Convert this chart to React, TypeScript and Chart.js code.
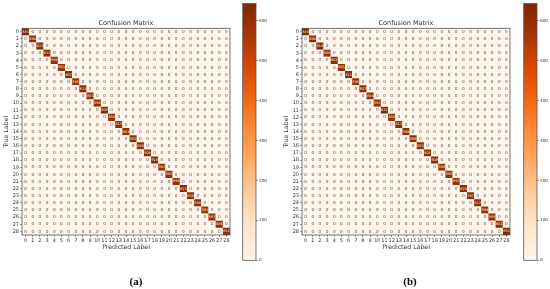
import React, { useEffect, useRef } from "react";
import { Chart, registerables } from "chart.js";

Chart.register(...registerables);

const categories = Array.from({ length: 29 }, (_, i) => String(i));
const diagonalA = [643, 604, 622, 612, 598, 590, 607, 585, 611, 602, 596, 609, 588, 615, 601, 593, 606, 599, 610, 587, 603, 594, 613, 600, 608, 591, 597, 605, 618];
const diagonalB = [640, 608, 618, 606, 602, 588, 611, 590, 607, 604, 592, 612, 586, 613, 598, 596, 603, 601, 609, 589, 605, 592, 610, 597, 612, 594, 595, 601, 630];
const colorbarTicks = [0, 100, 200, 300, 400, 500, 600];
const colorMax = 643;
const orangesStops = ["#fff5eb", "#fee6ce", "#fdd0a2", "#fdae6b", "#fd8d3c", "#f16913", "#d94801", "#a63603", "#7f2704"];

const FONT = "'DejaVu Sans', sans-serif";
const TEXT = "#333333";
const FRAME = "#555555";

function hexToRgb(h: string) {
  return [1, 3, 5].map((i) => parseInt(h.slice(i, i + 2), 16));
}
function cmap(v: number) {
  const t = Math.max(0, Math.min(1, v / colorMax)) * (orangesStops.length - 1);
  const i = Math.min(Math.floor(t), orangesStops.length - 2);
  const a = hexToRgb(orangesStops[i]);
  const b = hexToRgb(orangesStops[i + 1]);
  const f = t - i;
  const c = a.map((x, k) => Math.round(x + (b[k] - x) * f));
  return `rgb(${c[0]},${c[1]},${c[2]})`;
}

function buildCells(diag: number[]) {
  const cells: { x: string; y: string; v: number }[] = [];
  categories.forEach((row, r) =>
    categories.forEach((col, c) => cells.push({ x: col, y: row, v: r === c ? diag[r] : 0 }))
  );
  return cells;
}

const heatPlugin = {
  id: "heatPlugin",
  beforeDatasetsDraw(chart: any) {
    const { ctx, chartArea: a } = chart;
    ctx.save();
    ctx.fillStyle = orangesStops[0];
    ctx.fillRect(a.left, a.top, a.right - a.left, a.bottom - a.top);
    ctx.restore();
  },
  afterDatasetsDraw(chart: any) {
    const { ctx, chartArea: a, scales } = chart;
    ctx.save();
    ctx.textAlign = "center";
    ctx.textBaseline = "middle";
    chart.data.datasets[0].data.forEach((d: any) => {
      const x = scales.x.getPixelForValue(d.x);
      const y = scales.y.getPixelForValue(d.y);
      ctx.font = `${d.v > 0 ? 3.4 : 4.2}px ${FONT}`;
      ctx.fillStyle = d.v > colorMax / 2 ? "#fff0e0" : "#5a4a44";
      ctx.fillText(String(d.v), x, y);
    });
    ctx.strokeStyle = FRAME;
    ctx.lineWidth = 0.8;
    ctx.strokeRect(a.left, a.top, a.right - a.left, a.bottom - a.top);
    ctx.restore();
  },
};

const framePlugin = {
  id: "framePlugin",
  afterDatasetsDraw(chart: any) {
    const { ctx, chartArea: a } = chart;
    ctx.save();
    ctx.strokeStyle = FRAME;
    ctx.lineWidth = 0.8;
    ctx.strokeRect(a.left, a.top, a.right - a.left, a.bottom - a.top);
    ctx.restore();
  },
};

function Heatmap({ diag, left }: { diag: number[]; left: number }) {
  const ref = useRef<HTMLCanvasElement>(null);
  useEffect(() => {
    const chart = new Chart(ref.current!, {
      type: "scatter",
      data: {
        datasets: [
          {
            data: buildCells(diag),
            pointStyle: "rect",
            pointRadius: (ctx: any) => {
              const s = ctx.chart.scales.x;
              return s ? ((s.width / categories.length) * Math.SQRT1_2) : 5;
            },
            pointBorderWidth: 0,
            pointBackgroundColor: (ctx: any) => cmap(ctx.raw ? ctx.raw.v : 0),
          } as any,
        ],
      },
      options: {
        responsive: false,
        animation: false,
        layout: { padding: { top: 19.5, right: 10, bottom: 38, left: 0 } },
        plugins: {
          legend: { display: false },
          tooltip: { enabled: false },
          title: {
            display: true,
            fullSize: false,
            text: "Confusion Matrix",
            color: TEXT,
            font: { family: FONT, size: 6.5, weight: "normal", lineHeight: 1.2 },
            padding: { top: 0, bottom: 1 },
          },
        },
        scales: {
          x: {
            type: "category",
            labels: categories,
            offset: true,
            afterFit: (s: any) => { s.height = 16; },
            grid: { drawOnChartArea: false, drawTicks: true, tickLength: 2, offset: false, color: FRAME, lineWidth: 0.6 },
            border: { display: false },
            ticks: { color: TEXT, font: { family: FONT, size: 5 }, padding: 1, maxRotation: 0, autoSkip: false },
            title: { display: true, text: "Predicted Label", color: TEXT, font: { family: FONT, size: 6.2, lineHeight: 1.2 }, padding: { top: 0, bottom: 0 } },
          },
          y: {
            type: "category",
            labels: categories,
            offset: true,
            afterFit: (s: any) => { s.width = 22; },
            grid: { drawOnChartArea: false, drawTicks: true, tickLength: 2, offset: false, color: FRAME, lineWidth: 0.6 },
            border: { display: false },
            ticks: { color: TEXT, font: { family: FONT, size: 5 }, padding: 1, autoSkip: false },
            title: { display: true, text: "True Label", color: TEXT, font: { family: FONT, size: 6.2, lineHeight: 1.2 }, padding: { top: 3, bottom: 0 } },
          },
        },
      },
      plugins: [heatPlugin],
    } as any);
    return () => chart.destroy();
  }, [diag]);
  return <canvas ref={ref} width={240} height={289} style={{ position: "absolute", left, top: 0, filter: "blur(0.3px)" }} />;
}

function Colorbar({ left }: { left: number }) {
  const ref = useRef<HTMLCanvasElement>(null);
  useEffect(() => {
    const chart = new Chart(ref.current!, {
      type: "bar",
      data: {
        labels: ["scale"],
        datasets: [
          {
            data: [[0, colorMax]],
            barPercentage: 1,
            categoryPercentage: 1,
            backgroundColor: (ctx: any) => {
              const { chart: c } = ctx;
              const a = c.chartArea;
              if (!a) return orangesStops[4];
              const g = c.ctx.createLinearGradient(0, a.bottom, 0, a.top);
              orangesStops.forEach((col, i) => g.addColorStop(i / (orangesStops.length - 1), col));
              return g;
            },
          },
        ],
      },
      options: {
        responsive: false,
        animation: false,
        layout: { padding: { top: 3, right: 0, bottom: 28.7, left: 7.7 } },
        plugins: { legend: { display: false }, tooltip: { enabled: false }, title: { display: false } },
        scales: {
          x: { display: false },
          y: {
            position: "right",
            min: 0,
            max: colorMax,
            afterFit: (s: any) => { s.width = 19; },
            afterBuildTicks: (s: any) => { s.ticks = colorbarTicks.map((value) => ({ value })); },
            grid: { drawOnChartArea: false, drawTicks: true, tickLength: 2, color: FRAME, lineWidth: 0.6 },
            border: { display: false },
            ticks: { color: TEXT, font: { family: FONT, size: 4.2 }, padding: 1 },
          },
        },
      },
      plugins: [framePlugin],
    } as any);
    return () => chart.destroy();
  }, []);
  return <canvas ref={ref} width={40} height={289} style={{ position: "absolute", left, top: 0, filter: "blur(0.3px)" }} />;
}

const captionStyle = (left: number): React.CSSProperties => ({
  position: "absolute",
  left,
  top: 275,
  width: 30,
  textAlign: "center",
  font: "bold 11px 'Liberation Serif', serif",
  color: "#000",
  lineHeight: "13px",
});

export default function App() {
  return (
    <div style={{ position: "fixed", left: 0, top: 0, width: 550, height: 289, background: "#fff", overflow: "hidden" }}>
      <Heatmap diag={diagonalA} left={0} />
      <Colorbar left={235} />
      <Heatmap diag={diagonalB} left={280} />
      <Colorbar left={515.5} />
      <div style={captionStyle(121)}>(a)</div>
      <div style={captionStyle(395)}>(b)</div>
    </div>
  );
}
